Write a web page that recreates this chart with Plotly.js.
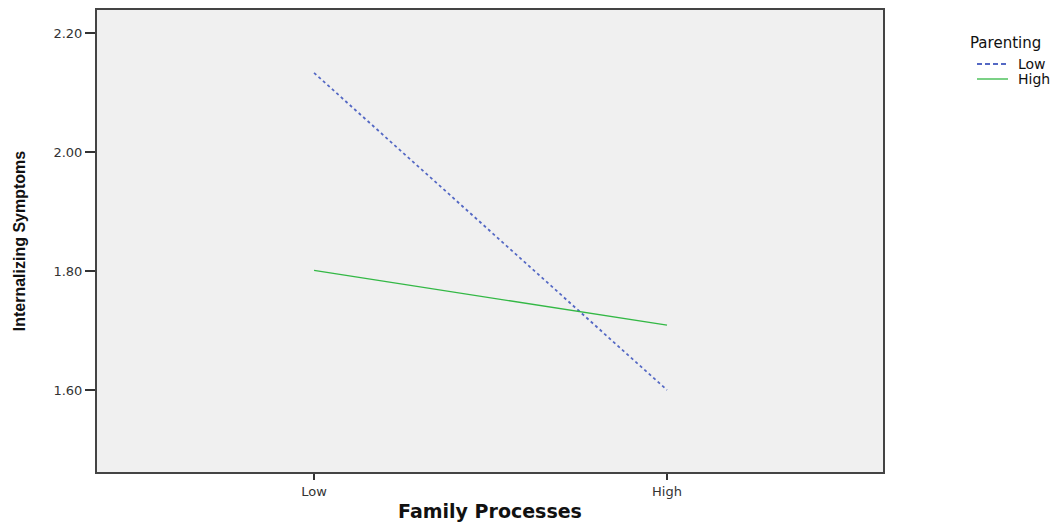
<!DOCTYPE html>
<html>
<head>
<meta charset="utf-8">
<script src="https://cdn.plot.ly/plotly-3.0.1.min.js"></script>
<style>html,body{margin:0;padding:0;background:#fff;}#chart{width:1063px;height:522px;}</style>
</head>
<body>
<div id="chart"></div>
<script>
const categories = ["Low", "High"];
const seriesNames = ["Low", "High"];
const lowParenting = [2.133, 1.600];
const highParenting = [1.801, 1.709];
const yTickVals = [1.60, 1.80, 2.00, 2.20];
const yTickText = ["1.60", "1.80", "2.00", "2.20"];
const legendTitle = "Parenting";

const colors = ["#5468c4", "#33b845"];
const dashes = ["dot", "solid"];
const widths = [1.8, 1.3];

const traces = [
  {x: [0, 1], y: lowParenting, name: seriesNames[0], mode: "lines", showlegend: false,
   line: {color: colors[0], width: widths[0], dash: dashes[0]}},
  {x: [0, 1], y: highParenting, name: seriesNames[1], mode: "lines", showlegend: false,
   line: {color: colors[1], width: widths[1], dash: dashes[1]}}
];

// legend drawn manually (paper coords) for tight SPSS-like spacing
const plotL = 97, plotW = 786, plotT = 10, plotH = 462;
const px = v => (v - plotL) / plotW;
const py = v => 1 - (v - plotT) / plotH;
const shapes = [];
const annotations = [];
annotations.push({xref: "paper", yref: "paper", x: px(968), y: py(43), xanchor: "left", yanchor: "middle",
  text: legendTitle, showarrow: false, font: {family: "DejaVu Sans, Verdana, sans-serif", size: 15, color: "#111"}});
seriesNames.forEach((n, i) => {
  const yy = 64 + i * 15;
  shapes.push({type: "line", xref: "paper", yref: "paper", x0: px(977), x1: px(1008), y0: py(yy), y1: py(yy),
    line: {color: colors[i], width: widths[i], dash: i === 0 ? "5px,3px" : "solid"}});
  annotations.push({xref: "paper", yref: "paper", x: px(1016), y: py(yy), xanchor: "left", yanchor: "middle",
    text: n, showarrow: false, font: {family: "DejaVu Sans, Verdana, sans-serif", size: 14, color: "#111"}});
});

const layout = {
  width: 1063, height: 522,
  margin: {l: 97, r: 180, t: 10, b: 50},
  paper_bgcolor: "#ffffff",
  plot_bgcolor: "#f0f0f0",
  font: {family: "DejaVu Sans, Verdana, sans-serif", color: "#222", size: 13},
  xaxis: {
    range: [-0.615, 1.612],
    tickvals: [0, 1], ticktext: categories,
    ticks: "outside", ticklen: 6, tickwidth: 2, tickcolor: "#333",
    showgrid: false, zeroline: false,
    showline: true, linecolor: "#444", linewidth: 2, mirror: true,
    tickfont: {size: 13, color: "#333"},
    title: {text: "Family Processes", standoff: 10,
      font: {size: 19, family: "DejaVu Sans, Verdana, sans-serif", color: "#111", weight: "bold"}}
  },
  yaxis: {
    range: [1.4622, 2.2387],
    tickvals: yTickVals, ticktext: yTickText,
    ticks: "outside", ticklen: 10, tickwidth: 2, tickcolor: "#333",
    showgrid: false, zeroline: false,
    showline: true, linecolor: "#444", linewidth: 2, mirror: true,
    tickfont: {size: 13, color: "#333"},
    title: {text: "Internalizing Symptoms", standoff: 24,
      font: {size: 16, family: "Liberation Sans Narrow, Arial Narrow, Liberation Sans, sans-serif", color: "#111", weight: "bold"}}
  },
  showlegend: false,
  shapes: shapes,
  annotations: annotations
};

Plotly.newPlot("chart", traces, layout, {displayModeBar: false, staticPlot: true});
</script>
</body>
</html>
